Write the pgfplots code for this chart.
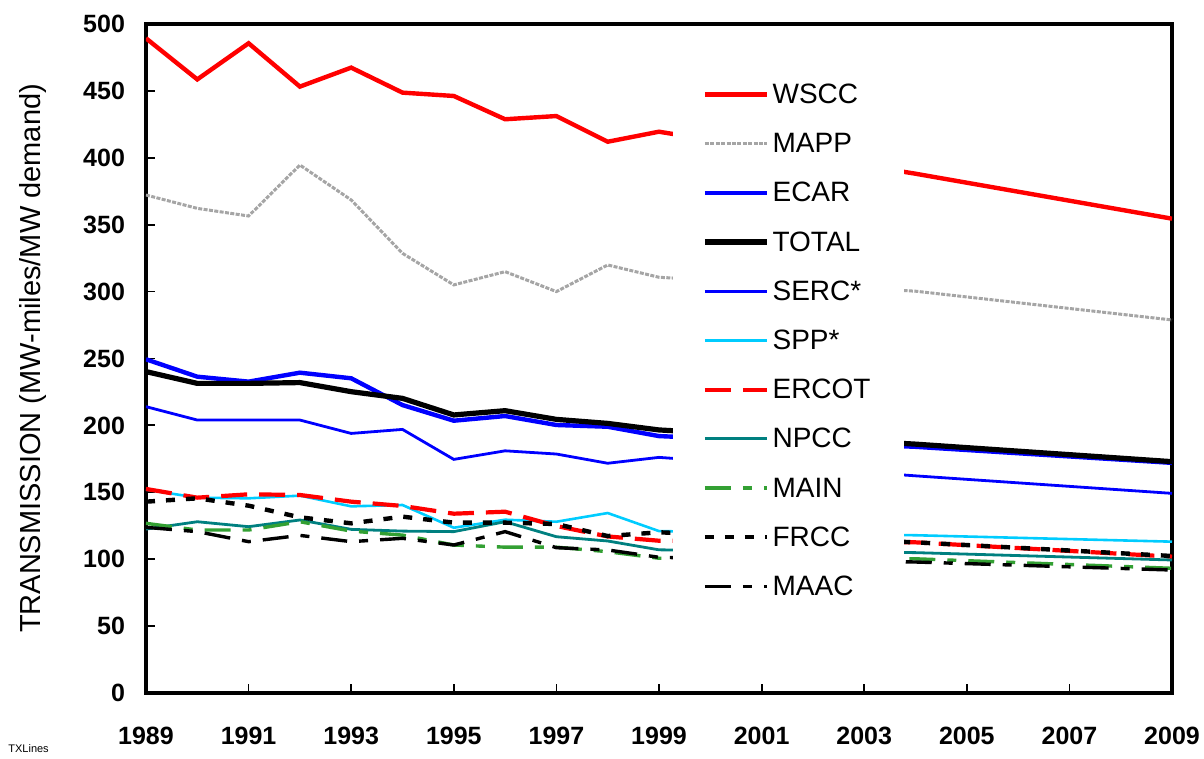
\documentclass[border=0pt]{standalone}
\usepackage{pgfplots}
\pgfplotsset{compat=1.18}
\usepackage{pgfplotstable}
\usepackage{fontspec}
\setmainfont{Liberation Sans}
\definecolor{cWSCC}{RGB}{255,0,0}
\definecolor{cMAPP}{RGB}{165,165,165}
\definecolor{cECAR}{RGB}{0,0,255}
\definecolor{cSPP}{RGB}{0,204,255}
\definecolor{cNPCC}{RGB}{0,128,128}
\definecolor{cMAIN}{RGB}{51,160,51}

\pgfplotstableread{
year WSCC MAPP ECAR TOTAL SERC SPP ERCOT NPCC MAIN FRCC MAAC
1989 489.3 372.2 249.4 240.2 214.0 152.0 152.5 122.5 126.8 143.0 123.8
1990 458.6 362.2 236.4 231.4 204.0 146.0 146.0 128.0 121.8 145.5 120.6
1991 485.6 356.5 232.7 231.4 204.0 145.5 148.5 124.3 121.8 140.0 113.1
1992 453.2 394.6 239.4 232.0 204.0 147.5 148.0 129.3 128.0 131.3 117.8
1993 467.4 368.5 235.2 225.2 194.0 139.5 143.0 122.3 121.0 126.8 113.1
1994 448.7 328.6 215.2 220.2 197.0 140.5 139.8 121.0 118.0 131.8 115.6
1995 446.2 305.0 203.5 207.8 174.6 123.5 134.0 120.6 110.6 127.3 110.6
1996 428.8 314.9 207.0 211.0 181.0 129.5 135.5 128.0 109.0 127.3 120.6
1997 431.2 300.0 200.3 204.5 178.6 128.0 124.8 116.8 109.0 126.3 108.6
1998 412.0 319.9 199.0 201.5 171.7 134.5 117.0 113.6 105.6 117.3 106.9
1999 419.5 310.7 192.0 196.6 176.1 121.0 113.8 107.0 100.7 120.1 101.4
2004 388.1 300.3 184.0 186.0 162.3 117.9 112.6 104.9 100.3 112.6 97.9
2009 354.5 278.8 172.0 172.9 149.2 113.1 101.9 99.4 93.2 102.4 91.9
}\data

\begin{document}
\begin{tikzpicture}
\useasboundingbox (-73pt,-33pt) rectangle (529pt,346.5pt);
\begin{axis}[
  scale only axis,
  width=513pt, height=334.5pt,
  xmin=1989, xmax=2009, ymin=0, ymax=500,
  xtick={1989,1991,...,2009},
  ytick={0,50,...,500},
  tick align=inside,
  tick pos=left,
  major tick length=4.5pt,
  tick style={black, line width=0.9pt},
  axis line style={black, line width=1.6pt},
  /pgf/number format/assume math mode=true,
  /pgf/number format/1000 sep={},
  tick label style={font=\fontsize{12.5}{14}\selectfont\bfseries},
  xticklabel style={yshift=-13.5pt},
  yticklabel style={xshift=-7pt},
  ylabel={TRANSMISSION (MW-miles/MW demand)},
  ylabel style={at={(axis description cs:-0.110,0.5)}, anchor=center, font=\fontsize{14.5}{16}\selectfont},
  legend image code/.code={\draw[#1] (0pt,1pt) -- (31pt,1pt);},
  legend cell align=left,
  legend style={draw=none, fill=none, at={(0.5419,0.9118)}, anchor=north west,
    inner sep=0pt, row sep=11.6pt, column sep=1.5pt,
    font=\fontsize{14}{16}\selectfont,
    nodes={inner sep=0pt, text height=10pt, text depth=3pt}},
]
\addplot[cWSCC, line width=2.2pt] table[x=year,y=WSCC]{\data};
\addlegendentry{WSCC}
\addplot[cMAPP, line width=1.5pt, dash pattern=on 2pt off 0.7pt] table[x=year,y=MAPP]{\data};
\addlegendentry{MAPP}
\addplot[cECAR, line width=2.2pt] table[x=year,y=ECAR]{\data};
\addlegendentry{ECAR}
\addplot[black, line width=2.6pt] table[x=year,y=TOTAL]{\data};
\addlegendentry{TOTAL}
\addplot[cECAR, line width=1.4pt] table[x=year,y=SERC]{\data};
\addlegendentry{SERC*}
\addplot[cSPP, line width=1.3pt] table[x=year,y=SPP]{\data};
\addlegendentry{SPP*}
\addplot[cWSCC, line width=2.1pt, dash pattern=on 13pt off 6pt] table[x=year,y=ERCOT]{\data};
\addlegendentry{ERCOT}
\addplot[cNPCC, line width=1.4pt] table[x=year,y=NPCC]{\data};
\addlegendentry{NPCC}
\addplot[cMAIN, line width=1.7pt, dash pattern=on 13pt off 6pt on 4.5pt off 6pt] table[x=year,y=MAIN]{\data};
\addlegendentry{MAIN}
\addplot[black, line width=2.2pt, dash pattern=on 4.5pt off 5.5pt] table[x=year,y=FRCC]{\data};
\addlegendentry{FRCC}
\addplot[black, line width=1.7pt, dash pattern=on 13pt off 6pt on 4.5pt off 6pt] table[x=year,y=MAAC]{\data};
\addlegendentry{MAAC}
\fill[white] (axis cs:1999.28,40) rectangle (axis cs:2003.78,496);
\end{axis}
\node[anchor=south west, inner sep=0pt, font=\fontsize{5.5}{6}\selectfont] at (-69pt,-30pt) {TXLines};
\end{tikzpicture}
\end{document}
